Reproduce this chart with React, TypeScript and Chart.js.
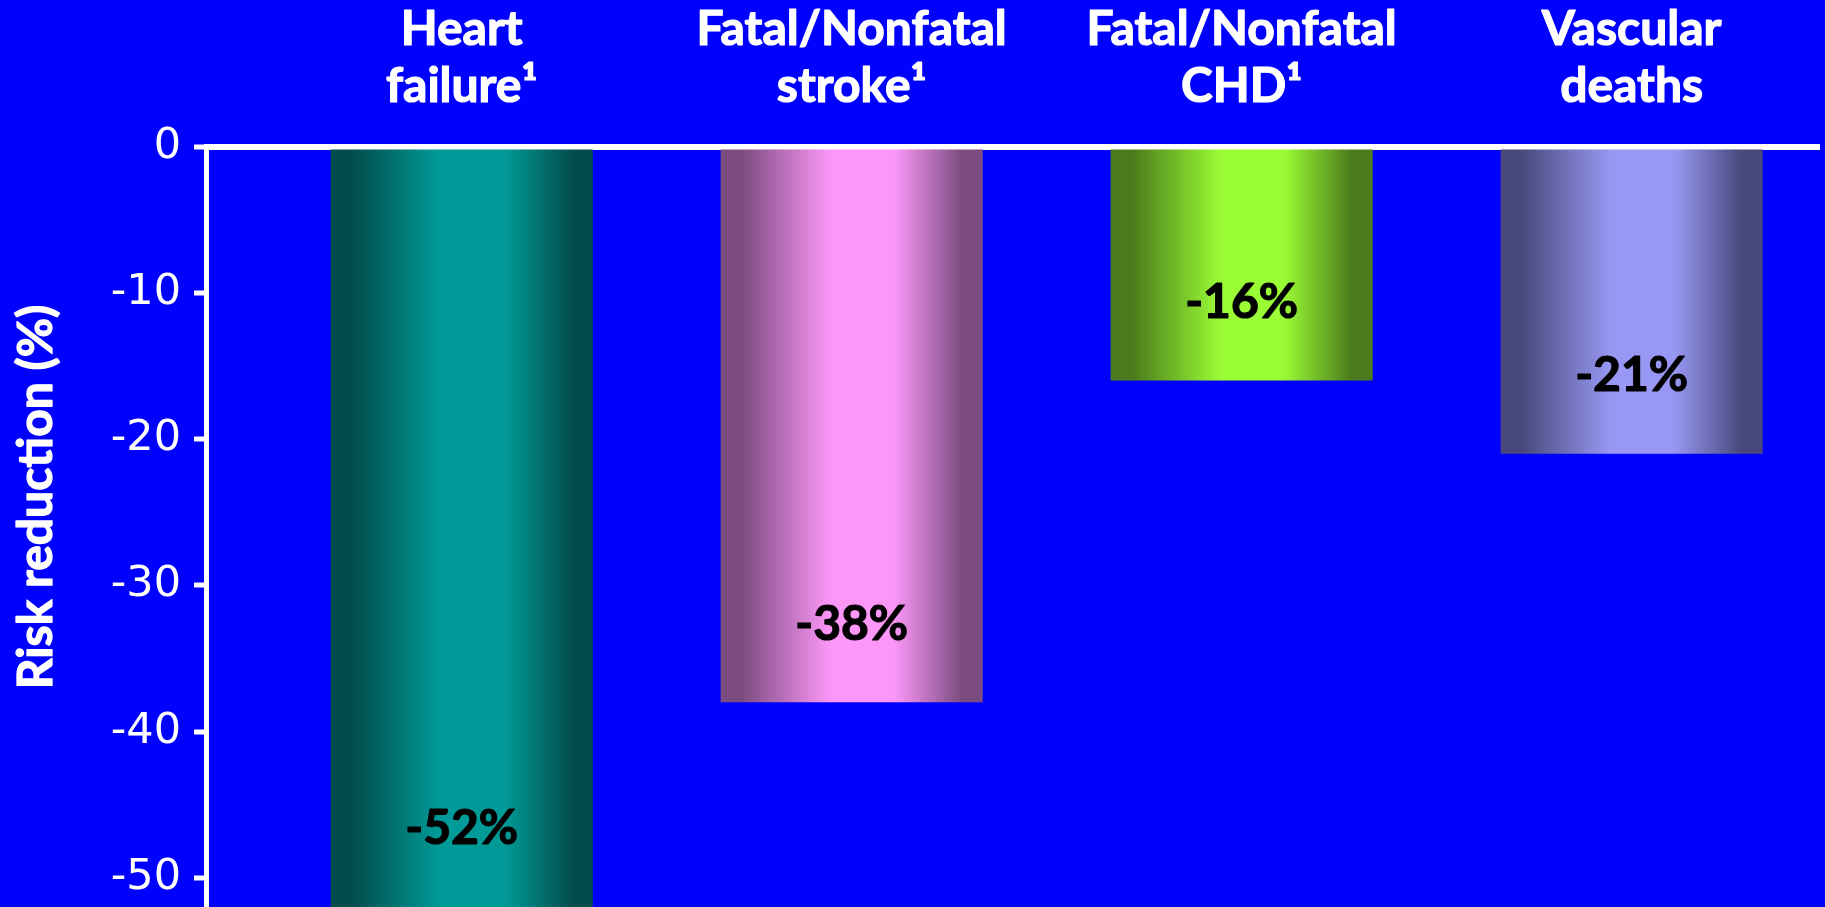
import React, { useEffect, useRef } from "react";
import { Chart, registerables } from "chart.js";

Chart.register(...registerables);

// ---- Data ----
const categories: string[][] = [
  ["Heart", "failure¹"],
  ["Fatal/Nonfatal", "stroke¹"],
  ["Fatal/Nonfatal", "CHD¹"],
  ["Vascular", "deaths"],
];
const positions = [0, 1, 2, 3];
const riskReduction = [-52, -38, -16, -21];
const valueLabels = ["-52%", "-38%", "-16%", "-21%"];
const yTicks = [0, -10, -20, -30, -40, -50];
const yAxisTitle = "Risk reduction (%)";
const barEdgeColors = ["#024d4b", "#7c4c80", "#4b7b1b", "#48487c"];
const barCenterColors = ["#009b98", "#fc97f8", "#9afc35", "#9898f4"];

const BAR_PCT = 0.672;
const LABEL_FONT = "bold 48px Lato";

function barGradient(c: any) {
  const chart = c.chart;
  const i = c.dataIndex;
  const xs = chart.scales && chart.scales.x;
  if (!xs || !chart.chartArea || i === undefined) return barCenterColors[i ?? 0];
  const cx = xs.getPixelForValue(positions[i]);
  const half = ((xs.getPixelForValue(1) - xs.getPixelForValue(0)) * BAR_PCT) / 2;
  const g = chart.ctx.createLinearGradient(cx - half, 0, cx + half, 0);
  const e = barEdgeColors[i];
  const m = barCenterColors[i];
  g.addColorStop(0, e);
  g.addColorStop(0.08, e);
  g.addColorStop(0.42, m);
  g.addColorStop(0.66, m);
  g.addColorStop(0.92, e);
  g.addColorStop(1, e);
  return g;
}

function boldText(ctx: CanvasRenderingContext2D, t: string, x: number, y: number, color: string) {
  ctx.fillStyle = color;
  ctx.strokeStyle = color;
  ctx.lineWidth = 1.2;
  ctx.lineJoin = "round";
  ctx.fillText(t, x, y);
  ctx.strokeText(t, x, y);
}

const overlayPlugin = {
  id: "overlay",
  afterDraw(chart: any) {
    const ctx = chart.ctx;
    const xs = chart.scales.x;
    ctx.save();
    // category labels at top
    ctx.font = LABEL_FONT;
    ctx.textAlign = "center";
    ctx.textBaseline = "alphabetic";
    categories.forEach((lines, i) => {
      const cx = xs.getPixelForValue(positions[i]);
      lines.forEach((t, j) => boldText(ctx, t, cx, 45 + j * 57, "#ffffff"));
    });
    // value labels inside bars
    const meta = chart.getDatasetMeta(0);
    ctx.textBaseline = "middle";
    meta.data.forEach((bar: any, i: number) => {
      boldText(ctx, valueLabels[i], bar.x, bar.y - 78, "#000000");
    });
    // y-axis title
    ctx.textBaseline = "alphabetic";
    ctx.translate(52, 497);
    ctx.rotate(-Math.PI / 2);
    boldText(ctx, yAxisTitle, 0, 0, "#ffffff");
    ctx.restore();
  },
};

export default function App() {
  const canvasRef = useRef<HTMLCanvasElement | null>(null);

  useEffect(() => {
    if (!canvasRef.current) return;
    const chart = new Chart(canvasRef.current, {
      type: "bar",
      data: {
        datasets: [
          {
            data: positions.map((p, i) => ({ x: p, y: riskReduction[i] })),
            backgroundColor: barGradient,
            borderWidth: 0,
            barPercentage: BAR_PCT,
            categoryPercentage: 1,
          },
        ],
      },
      options: {
        animation: false,
        responsive: true,
        maintainAspectRatio: false,
        devicePixelRatio: 1,
        layout: { padding: { top: 146.5, right: 5, bottom: 0, left: 0 } },
        plugins: {
          legend: { display: false },
          tooltip: { enabled: false },
        },
        scales: {
          x: {
            type: "linear",
            min: -0.6557,
            max: 3.483,
            offset: false,
            display: false,
            afterBuildTicks: (s: any) => {
              s.ticks = positions.map((v) => ({ value: v }));
            },
          },
          y: {
            type: "linear",
            position: "left",
            min: -52,
            max: 0,
            z: 1,
            afterFit: (s: any) => {
              s.width = 206;
              s.paddingTop = 0;
              s.paddingBottom = 0;
            },
            afterBuildTicks: (s: any) => {
              s.ticks = yTicks.map((v) => ({ value: v }));
            },
            ticks: {
              color: "#ffffff",
              font: { family: "DejaVu Sans", size: 43 },
              padding: 13,
              callback: (v: any) => String(v),
            },
            grid: {
              color: (c: any) => (c.tick && c.tick.value === 0 ? "#ffffff" : "rgba(0,0,0,0)"),
              lineWidth: (c: any) => (c.tick && c.tick.value === 0 ? 6 : 0),
              tickColor: "#ffffff",
              tickWidth: 5,
              tickLength: 12,
              drawTicks: true,
            },
            border: { color: "#ffffff", width: 5 },
            title: { display: false },
          },
        },
      },
      plugins: [overlayPlugin],
    });
    return () => chart.destroy();
  }, []);

  return (
    <div
      style={{
        position: "fixed",
        left: 0,
        top: 0,
        width: 1825,
        height: 907,
        background: "#0000ff",
      }}
    >
      <canvas ref={canvasRef} />
    </div>
  );
}
